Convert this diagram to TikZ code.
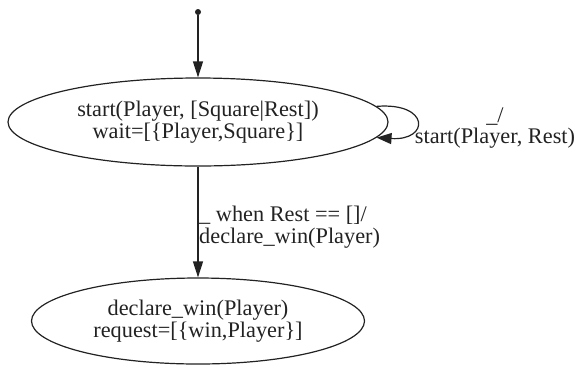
\documentclass[tikz,border=0pt]{standalone}
\usepackage{fontspec}
\setmainfont{Liberation Serif}
\usetikzlibrary{arrows.meta,shapes.geometric}
\definecolor{ink}{HTML}{222222}
\begin{document}
\begin{tikzpicture}[x=1pt,y=-1pt,
  txt/.style={font=\fontsize{22.3}{21.5}\selectfont, text=ink},
  state/.style={txt, draw=ink, ellipse, line width=1.2pt, inner sep=0pt,
    align=center},
  lbl/.style={txt, inner sep=0pt},
  arr/.style={draw=ink, line width=1.2pt,
    -{Triangle[length=16pt,width=10pt]}}]
\useasboundingbox (0,0) rectangle (577,365);

% initial pseudo-state
\node[circle, fill=ink, inner sep=0pt, minimum size=6pt] (init) at (198,12) {};

% states
\node[state, minimum width=380pt, minimum height=88pt] (s1) at (198,122)
  {start(Player, [Square|Rest])\\wait=[\{Player,Square\}]};
\node[state, minimum width=333pt, minimum height=86pt] (s2) at (198,321)
  {declare\_win(Player)\\request=[\{win,Player\}]};

% transitions
\draw[arr] (init) -- (s1);
\draw[arr] (s1) -- (s2);
\node[lbl, align=left, anchor=north west] (g) at (199,206)
  {\_ when Rest == []/\\declare\_win(Player)};

\draw[arr, -{Triangle[length=15pt,width=11pt]}]
  (s1.5) .. controls (430,102) and (430,141) .. (s1.-5);
\node[lbl, align=center] (loop) at (495,128) {\_/\\start(Player, Rest)};
\end{tikzpicture}
\end{document}
